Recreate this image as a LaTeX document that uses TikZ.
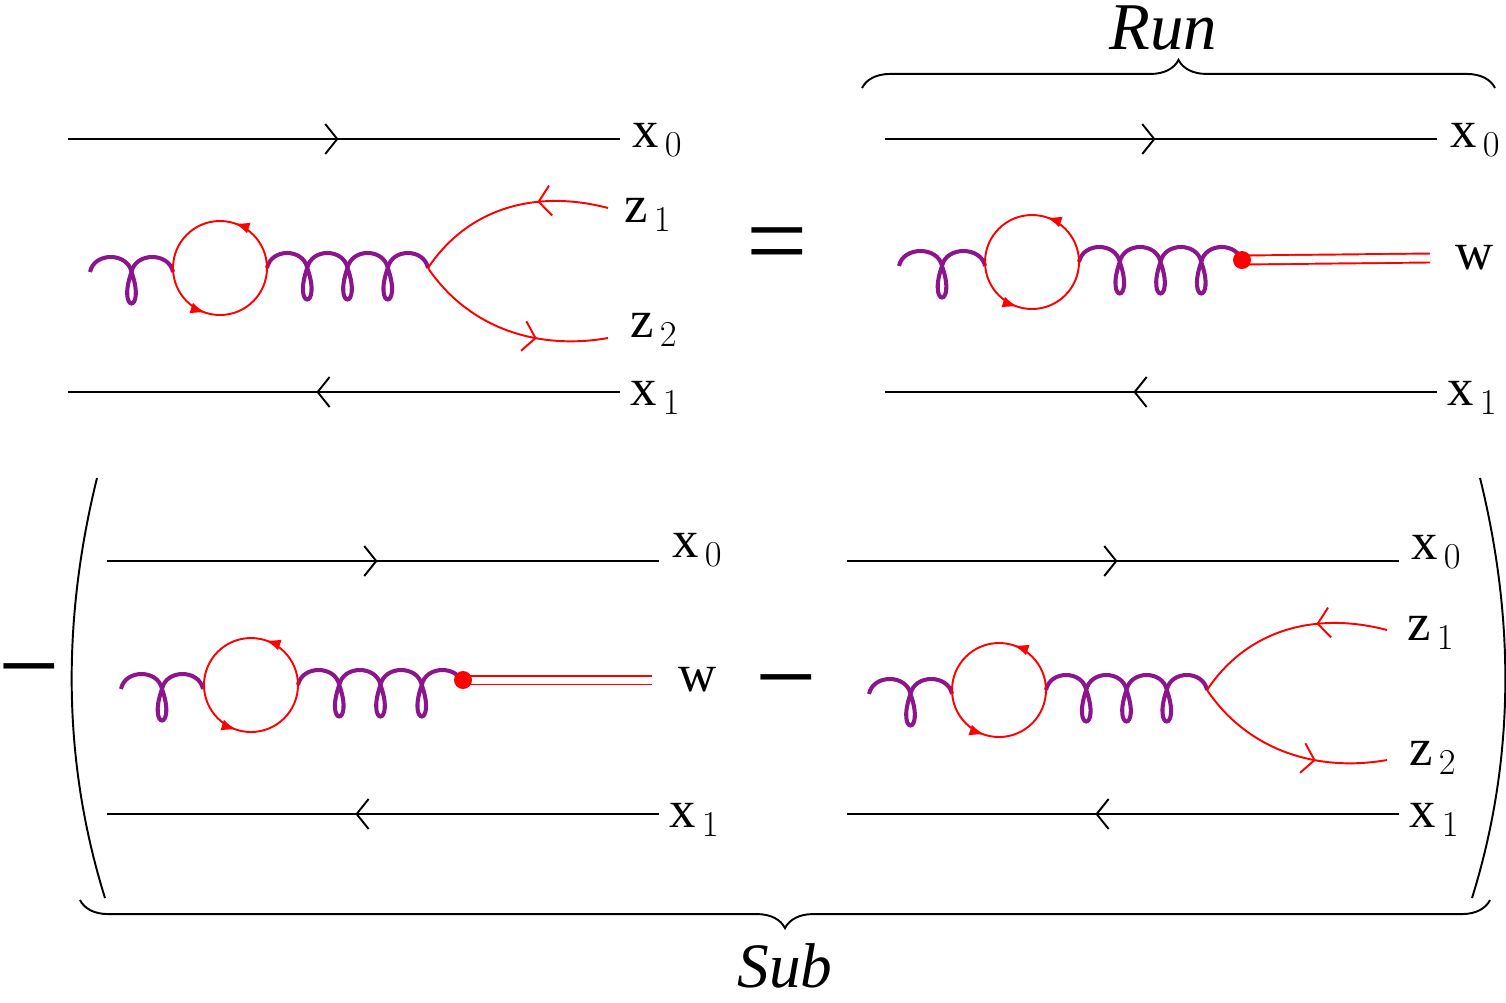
\documentclass[tikz,border=0pt]{standalone}
\usepackage{fontspec}
\setmainfont{Liberation Serif}
\usetikzlibrary{decorations.pathreplacing,decorations.markings,arrows.meta}
\definecolor{gluon}{RGB}{140,20,140}
\tikzset{
  quark/.style={line width=1.1pt,postaction={decorate},decoration={markings,
    mark=at position #1 with {\arrow{Straight Barb[length=2.4mm,width=6mm]}}}},
  quark/.default=0.5,
  fermion/.style={red,line width=1.1pt},
  bubble/.style={fermion,postaction={decorate},decoration={markings,
    mark=at position 0.2 with {\arrow{Latex[length=3mm]}},
    mark=at position 0.7 with {\arrow{Latex[length=3mm]}}}},
  gluonline/.style={gluon,line width=2.3pt},
  lbl/.style={font=\fontsize{30}{36}\selectfont,inner sep=0pt},
  bigsym/.style={font=\fontsize{62}{62}\selectfont,inner sep=0pt}
}
\newcommand{\leglabel}[2]{$\mathrm{#1}_{\,#2}$}
% gluon: start, number of arches, arch length
\newcommand{\gluonchain}[3]{%
  \draw[gluonline] (#1) .. controls +(4,-20) and +(-4,-20) .. ++(#3,0)
    \foreach \k in {2,...,#2} { .. controls +(15,42) and +(-15,42) .. ++(0,0)
    .. controls +(4,-20) and +(-4,-20) .. ++(#3,0) };}
\begin{document}
\begin{tikzpicture}[x=0.02cm,y=-0.02cm]
\useasboundingbox (0,0) rectangle (1506,1002);

% top left panel
\begin{scope}[shift={(0,0)}]
\coordinate (a0l) at (68,139); \coordinate (a0r) at (620,139);
\coordinate (a1l) at (68,392); \coordinate (a1r) at (620,392);
\draw[quark=0.49] (a0l) -- (a0r);
\draw[quark=0.55] (a1r) -- (a1l);
\node[lbl,anchor=west] (ax0) at (632,140) {\leglabel{x}{0}};
\node[lbl,anchor=west] (ax1) at (630,398) {\leglabel{x}{1}};
\coordinate (ag1) at (90,272); \coordinate (ag3) at (267,268);
\coordinate (av) at (428,268);
\gluonchain{ag1}{2}{41.5}
\gluonchain{ag3}{4}{40.25}
\draw[bubble] (267,268) arc[start angle=0,end angle=-360,radius=47];
\coordinate (az1) at (608,208); \coordinate (az2) at (608,338);
\draw[fermion,quark=0.35] (az1) .. controls (540,190) and (470,205) .. (av);
\draw[fermion,quark=0.65] (av) .. controls (470,330) and (540,350) .. (az2);
\node[lbl,anchor=west] (az1l) at (624,215) {\leglabel{z}{1}};
\node[lbl,anchor=west] (az2l) at (630,330) {\leglabel{z}{2}};
\end{scope}

\node[bigsym] (eq) at (777,253) {=};

% top right panel
\begin{scope}[shift={(817,0)}]
\coordinate (b0l) at (68,139); \coordinate (b0r) at (620,139);
\coordinate (b1l) at (68,392); \coordinate (b1r) at (620,392);
\draw[quark=0.49] (b0l) -- (b0r);
\draw[quark=0.55] (b1r) -- (b1l);
\node[lbl,anchor=west] (bx0) at (633,140) {\leglabel{x}{0}};
\node[lbl,anchor=west] (bx1) at (630,398) {\leglabel{x}{1}};
\coordinate (bg1) at (82,266); \coordinate (bg3) at (262,262);
\coordinate (bv) at (425,260);
\gluonchain{bg1}{2}{43}
\gluonchain{bg3}{4}{40.75}
\draw[bubble] (262,262) arc[start angle=0,end angle=-360,radius=47];
\coordinate (bw) at (613,258);
\draw[red,line width=1.1pt,double=white,double distance=4pt] (bv) -- (bw);
\fill[red] (bv) circle (9);
\node[lbl] (bwl) at (658,258) {w};
\end{scope}

% bottom
\node[bigsym] (m1) at (29,683) {−};
\node[bigsym] (m2) at (786,694) {−};
\draw[line width=1.1pt] (97,478) .. controls (62,620) and (62,760) .. (105,898);
\draw[line width=1.1pt] (1480,478) .. controls (1515,620) and (1515,760) .. (1472,898);

% bottom left panel
\begin{scope}[shift={(39,422)}]
\coordinate (c0l) at (68,139); \coordinate (c0r) at (620,139);
\coordinate (c1l) at (68,392); \coordinate (c1r) at (620,392);
\draw[quark=0.49] (c0l) -- (c0r);
\draw[quark=0.55] (c1r) -- (c1l);
\node[lbl,anchor=west] (cx0) at (633,128) {\leglabel{x}{0}};
\node[lbl,anchor=west] (cx1) at (630,398) {\leglabel{x}{1}};
\coordinate (cg1) at (82,267); \coordinate (cg3) at (259,263);
\coordinate (cv) at (424,258);
\gluonchain{cg1}{2}{41}
\gluonchain{cg3}{4}{41.25}
\draw[bubble] (259,263) arc[start angle=0,end angle=-360,radius=47];
\coordinate (cw) at (613,258);
\draw[red,line width=1.1pt,double=white,double distance=4pt] (cv) -- (cw);
\fill[red] (cv) circle (9);
\node[lbl] (cwl) at (659,258) {w};
\end{scope}

% bottom right panel
\begin{scope}[shift={(779,422)}]
\coordinate (d0l) at (68,139); \coordinate (d0r) at (620,139);
\coordinate (d1l) at (68,392); \coordinate (d1r) at (620,392);
\draw[quark=0.49] (d0l) -- (d0r);
\draw[quark=0.55] (d1r) -- (d1l);
\node[lbl,anchor=west] (dx0) at (632,130) {\leglabel{x}{0}};
\node[lbl,anchor=west] (dx1) at (630,398) {\leglabel{x}{1}};
\coordinate (dg1) at (90,272); \coordinate (dg3) at (267,268);
\coordinate (dv) at (428,268);
\gluonchain{dg1}{2}{41.5}
\gluonchain{dg3}{4}{40.25}
\draw[bubble] (267,268) arc[start angle=0,end angle=-360,radius=47];
\coordinate (dz1) at (608,208); \coordinate (dz2) at (608,338);
\draw[fermion,quark=0.35] (dz1) .. controls (540,190) and (470,205) .. (dv);
\draw[fermion,quark=0.65] (dv) .. controls (470,330) and (540,350) .. (dz2);
\node[lbl,anchor=west] (dz1l) at (628,211) {\leglabel{z}{1}};
\node[lbl,anchor=west] (dz2l) at (630,336) {\leglabel{z}{2}};
\end{scope}

% braces
\coordinate (runl) at (862,88); \coordinate (runr) at (1495,88);
\draw[line width=1.1pt,decorate,decoration={brace,amplitude=16}] (runl) -- (runr);
\node[lbl,font=\fontsize{38}{44}\selectfont\itshape] (run) at (1163,28) {Run};
\coordinate (subl) at (80,900); \coordinate (subr) at (1490,900);
\draw[line width=1.1pt,decorate,decoration={brace,amplitude=16,mirror}] (subl) -- (subr);
\node[lbl,font=\fontsize{36}{42}\selectfont\itshape] (sub) at (785,966) {Sub};
\end{tikzpicture}
\end{document}
